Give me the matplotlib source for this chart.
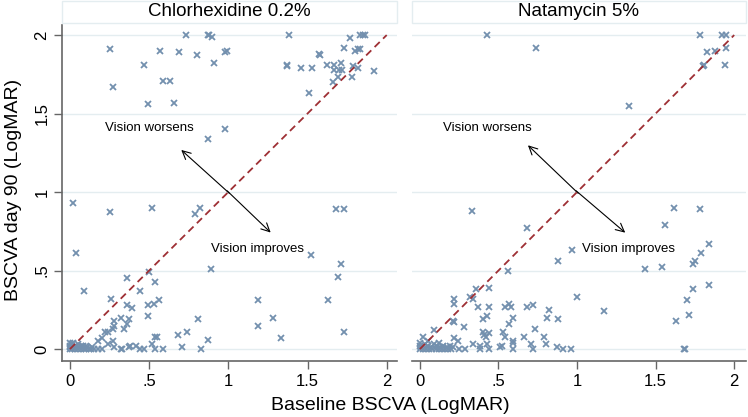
import numpy as np
import matplotlib.pyplot as plt
from matplotlib.patches import Rectangle

plt.rcParams['font.family'] = ['Liberation Sans', 'DejaVu Sans']

###: Data (baseline, day 90)
panel_titles = ['Chlorhexidine 0.2%', 'Natamycin 5%']

chx_points = [
    (0.25, 1.91), (0.57, 1.90), (0.69, 1.89), (0.73, 2.0), (0.87, 2.0), (0.88, 2.0), (0.90, 1.99),
    (0.80, 1.87), (0.98, 1.89), (0.99, 1.90), (0.91, 1.82), (0.47, 1.81), (0.59, 1.71), (0.63, 1.71),
    (0.27, 1.67), (0.49, 1.56), (0.66, 1.57), (0.98, 1.40), (0.87, 1.34),
    (1.38, 2.0), (1.37, 1.81), (1.37, 1.80), (1.46, 1.79), (1.53, 1.79), (1.57, 1.88), (1.58, 1.87),
    (1.51, 1.63), (1.62, 1.81), (1.67, 1.81), (1.67, 1.78), (1.71, 1.82), (1.70, 1.78), (1.72, 1.78),
    (1.66, 1.70), (1.69, 1.73), (1.73, 1.92), (1.77, 1.98), (1.80, 1.90), (1.82, 1.91), (1.83, 1.91),
    (1.83, 2.0), (1.85, 2.0), (1.86, 2.0), (1.79, 1.80), (1.82, 1.79), (1.78, 1.73), (1.92, 1.77),
    (0.02, 0.93), (0.04, 0.61), (0.25, 0.87), (0.52, 0.90), (0.79, 0.86), (0.82, 0.90), (0.89, 0.51),
    (0.09, 0.37), (0.36, 0.45), (0.50, 0.49), (0.54, 0.43), (0.44, 0.37), (0.26, 0.32), (0.36, 0.28),
    (0.39, 0.26), (0.49, 0.28), (0.53, 0.29), (0.56, 0.31), (0.49, 0.21), (0.32, 0.20), (0.37, 0.19),
    (0.36, 0.16), (0.28, 0.18), (0.28, 0.15), (0.27, 0.13), (0.34, 0.13), (0.22, 0.11), (0.24, 0.11),
    (0.20, 0.07), (0.18, 0.05), (0.27, 0.05), (0.24, 0.03), (0.54, 0.08), (0.55, 0.08), (0.52, 0.03),
    (0.68, 0.09), (0.74, 0.11), (0.81, 0.19), (0.87, 0.06), (0.83, 0.0), (0.71, 0.01), (0.59, 0.0),
    (0.54, 0.0), (0.42, 0.02), (0.37, 0.01), (0.38, 0.02), (0.44, 0.0), (0.47, 0.0), (0.28, 0.01),
    (0.32, 0.0), (0.33, 0.0), (0.18, 0.0), (0.20, 0.0),
    (1.68, 0.89), (1.73, 0.89), (1.52, 0.60), (1.71, 0.54), (1.69, 0.46), (1.63, 0.31), (1.19, 0.31),
    (1.28, 0.20), (1.19, 0.15), (1.33, 0.07), (1.73, 0.11),
    (0.0, 0.0), (0.0, 0.02), (0.0, 0.04), (0.01, 0.0), (0.02, 0.01), (0.02, 0.04), (0.03, 0.0),
    (0.04, 0.02), (0.05, 0.0), (0.06, 0.01), (0.07, 0.0), (0.08, 0.02), (0.09, 0.0), (0.10, 0.0),
    (0.11, 0.01), (0.12, 0.0), (0.13, 0.0), (0.14, 0.01), (0.15, 0.0), (0.0, 0.01), (0.01, 0.03),
    (0.03, 0.02), (0.05, 0.03), (0.07, 0.02), (0.10, 0.02),
]

nat_points = [
    (0.43, 2.0), (0.74, 1.92), (1.78, 2.0), (1.92, 2.0), (1.95, 2.0), (1.83, 1.89), (1.88, 1.90),
    (1.95, 1.92), (1.80, 1.80), (1.81, 1.81), (1.94, 1.81), (1.33, 1.55),
    (0.33, 0.88), (0.68, 0.77), (0.97, 0.63), (0.88, 0.56), (0.56, 0.50), (0.36, 0.38), (0.44, 0.39),
    (0.22, 0.32), (0.22, 0.29), (0.32, 0.33), (0.34, 0.32), (0.37, 0.27), (0.44, 0.27), (0.54, 0.27),
    (0.57, 0.29), (0.58, 0.27), (0.68, 0.27), (0.72, 0.28), (1.0, 0.33), (0.82, 0.25), (0.40, 0.19),
    (0.43, 0.21), (0.59, 0.20), (0.57, 0.16), (0.81, 0.20), (0.88, 0.19), (0.21, 0.18), (0.22, 0.17),
    (0.28, 0.14), (0.09, 0.12), (0.73, 0.13), (0.40, 0.11), (0.44, 0.10), (0.41, 0.09), (0.42, 0.08),
    (0.53, 0.11), (0.54, 0.08), (0.02, 0.08), (0.22, 0.07), (0.24, 0.05), (0.59, 0.05), (0.59, 0.04),
    (0.66, 0.08), (0.79, 0.08), (0.80, 0.03), (0.71, 0.03), (0.72, 0.0), (0.87, 0.01), (0.91, 0.0),
    (0.96, 0.0), (0.59, 0.0), (0.51, 0.01), (0.52, 0.02), (0.43, 0.03), (0.44, 0.0), (0.38, 0.02),
    (0.34, 0.03), (0.38, 0.0), (0.29, 0.0), (0.25, 0.0),
    (1.62, 0.90), (1.78, 0.89), (1.56, 0.79), (1.84, 0.67), (1.79, 0.61), (1.75, 0.56), (1.74, 0.54),
    (1.43, 0.51), (1.54, 0.52), (1.84, 0.41), (1.74, 0.38), (1.70, 0.31), (1.71, 0.22), (1.63, 0.18),
    (1.17, 0.24), (1.68, 0.0), (1.69, 0.0),
    (0.0, 0.0), (0.0, 0.02), (0.0, 0.04), (0.01, 0.01), (0.02, 0.0), (0.03, 0.03), (0.04, 0.0),
    (0.05, 0.02), (0.06, 0.0), (0.07, 0.01), (0.08, 0.0), (0.09, 0.03), (0.10, 0.0), (0.11, 0.02),
    (0.12, 0.0), (0.13, 0.01), (0.14, 0.0), (0.15, 0.02), (0.16, 0.0), (0.17, 0.01), (0.18, 0.0),
    (0.19, 0.02), (0.20, 0.0), (0.21, 0.01), (0.05, 0.05), (0.12, 0.04),
]

ticks = [0, 0.5, 1, 1.5, 2]
tick_labels = ['0', '.5', '1', '1.5', '2']

# arrow heads and text anchors per panel
worse_head = [(0.69, 1.28), (0.675, 1.31)]
better_head = [(1.28, 0.73), (1.32, 0.73)]
worse_text = [(0.50, 1.41), (0.43, 1.41)]
better_text = [(0.89, 0.64), (1.03, 0.64)]

###: Styles
marker_col = '#7390ae'
line_col = '#9e2f34'
grid_col = '#e4edf0'
spine_col = '#666666'

fig = plt.figure(figsize=(7.48, 4.17), dpi=100)
W, H = 748, 417
panels_px = [(62, 397), (412, 746)]
top_px, bot_px = 25, 361

for i, (pts, title) in enumerate(zip([chx_points, nat_points], panel_titles)):
    x0, x1 = panels_px[i]
    ax = fig.add_axes([x0 / W, 1 - bot_px / H, (x1 - x0) / W, (bot_px - top_px) / H])
    pts = np.array(pts)
    ax.plot(pts[:, 0], pts[:, 1], 'x', color=marker_col, markersize=4.2, mew=1.3, zorder=3)
    ax.plot([0, 2], [0, 2], color=line_col, lw=1.3, dashes=(4, 2.6), zorder=4)

    ax.annotate('', xy=worse_head[i], xytext=(1.02, 0.98),
                arrowprops=dict(arrowstyle='->', color='black', lw=0.8, mutation_scale=15))
    ax.annotate('', xy=better_head[i], xytext=(0.98, 1.02),
                arrowprops=dict(arrowstyle='->', color='black', lw=0.8, mutation_scale=15))
    ax.text(*worse_text[i], 'Vision worsens', ha='center', va='center', fontsize=9.5)
    ax.text(*better_text[i], 'Vision improves', ha='left', va='center', fontsize=9.5)

    ax.set_xlim(-0.05, 2.065 if i == 0 else 2.075)
    ax.set_ylim(-0.076, 2.064)
    ax.set_xticks(ticks)
    ax.set_xticklabels(tick_labels, fontsize=12)
    ax.set_yticks(ticks)
    for y in ticks:
        ax.axhline(y, color=grid_col, lw=1.0, zorder=1)

    for s in ['top', 'right']:
        ax.spines[s].set_visible(False)
    ax.spines['bottom'].set_color(spine_col)
    ax.spines['bottom'].set_linewidth(1.2)
    ax.tick_params(axis='x', length=6, width=1, color=spine_col, pad=3)
    if i == 0:
        ax.spines['left'].set_color(spine_col)
        ax.spines['left'].set_linewidth(1.2)
        ax.set_yticklabels(tick_labels, fontsize=12, rotation=90, va='center')
        ax.tick_params(axis='y', length=6, width=1, color=spine_col, pad=3)
    else:
        ax.spines['left'].set_visible(False)
        ax.tick_params(axis='y', left=False, labelleft=False)

    # title strip
    fig.add_artist(Rectangle((x0 / W, 1 - 23 / H), (x1 - x0) / W, 22 / H,
                             transform=fig.transFigure, facecolor='white',
                             edgecolor=grid_col, lw=1.0))
    fig.text((x0 + x1) / 2 / W, 1 - 12 / H, title, ha='center', va='center', fontsize=13.5)

fig.text(14 / W, 1 - 190 / H, 'BSCVA day 90 (LogMAR)', rotation=90, ha='center', va='center', fontsize=14)
fig.text(390 / W, 1 - 405 / H, 'Baseline BSCVA (LogMAR)', ha='center', va='center', fontsize=14)

plt.savefig('out.png', dpi=100)
